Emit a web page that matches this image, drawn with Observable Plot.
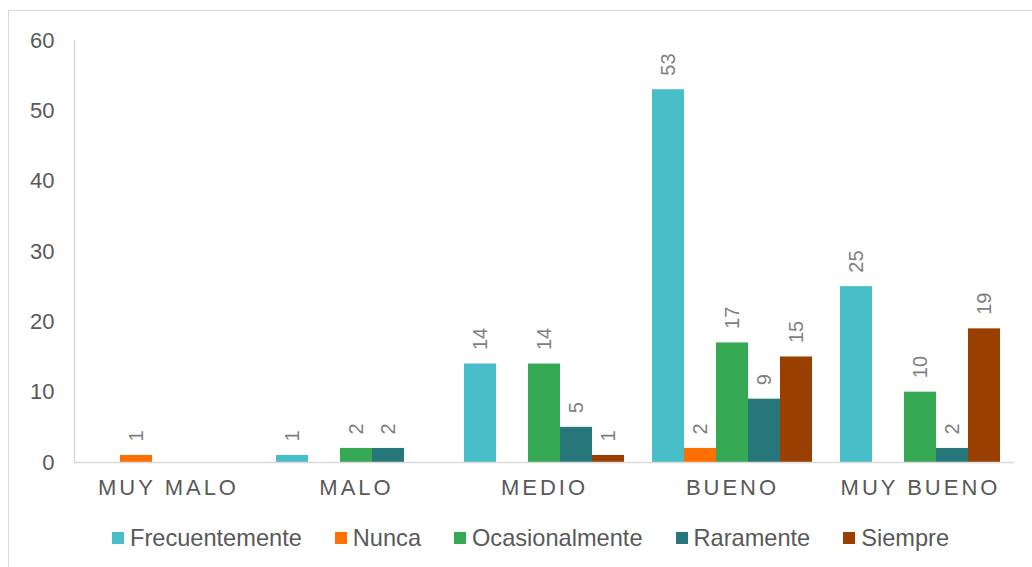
<!DOCTYPE html>
<html>
<head>
<meta charset="utf-8">
<script src="https://cdn.jsdelivr.net/npm/d3@7"></script>
<script src="https://cdn.jsdelivr.net/npm/@observablehq/plot@0.6"></script>
<style>
  html, body { margin: 0; padding: 0; background: #fff; }
  body { width: 1032px; height: 567px; overflow: hidden; position: relative; font-family: "Liberation Sans", Arial, sans-serif; }
  #border { position: absolute; left: 8px; top: 10px; width: 1040px; height: 570px; border: 1px solid #d9d9d9; box-sizing: border-box; }
  #chart { position: absolute; left: 0; top: 0; }
  #chart [aria-label="fx-axis tick label"] text { letter-spacing: 3px; }
  #legend { position: absolute; left: 112px; top: 524px; display: flex; align-items: center; gap: 33px; font-size: 23.6px; color: #595959; line-height: 28px; }
  #legend .item { display: flex; align-items: center; }
  #legend .swatch { width: 12px; height: 12px; margin-right: 6px; }
</style>
</head>
<body>
<div id="border"></div>
<div id="chart"></div>
<div id="legend"></div>
<script>
// Rating categories along the x axis
const categories = ["MUY MALO", "MALO", "MEDIO", "BUENO", "MUY BUENO"];
// Response series (one bar per series inside each category)
const series = ["Frecuentemente", "Nunca", "Ocasionalmente", "Raramente", "Siempre"];
const colors = ["#48bec8", "#ff6f00", "#35a853", "#26767a", "#993f00"];

// Counts per category, in category order
const frecuentemente = [0, 1, 14, 53, 25];
const nunca = [1, 0, 0, 2, 0];
const ocasionalmente = [0, 2, 14, 17, 10];
const raramente = [0, 2, 5, 9, 2];
const siempre = [0, 0, 1, 15, 19];

const yTicks = [0, 10, 20, 30, 40, 50, 60];

const valuesBySeries = [frecuentemente, nunca, ocasionalmente, raramente, siempre];
const rows = [];
series.forEach((s, si) => {
  categories.forEach((c, ci) => {
    rows.push({category: c, series: s, value: valuesBySeries[si][ci]});
  });
});
const shown = rows.filter(d => d.value > 0);

const chart = Plot.plot({
  width: 1032,
  height: 510,
  marginTop: 40,
  marginBottom: 48,
  marginLeft: 73,
  marginRight: 17,
  style: {fontFamily: "'Liberation Sans', Arial, sans-serif", fontSize: "22px", color: "#595959", background: "transparent", overflow: "visible"},
  fx: {domain: categories, padding: 0, label: null},
  x: {domain: series, paddingInner: 0, paddingOuter: 0.36, axis: null},
  y: {domain: [0, 60], label: null},
  color: {domain: series, range: colors},
  marks: [
    Plot.barY(shown, {fx: "category", x: "series", y: "value", fill: "series"}),
    Plot.ruleY([0], {stroke: "#d9d9d9", strokeWidth: 1.5}),
    Plot.frame({anchor: "left", stroke: "#d9d9d9", strokeWidth: 1.5, facet: "super"}),
    Plot.axisY(yTicks, {tickSize: 0, tickPadding: 20, label: null, fontSize: 22}),
    Plot.axisFx({anchor: "bottom", tickSize: 0, tickPadding: 17, label: null, fontSize: 22}),
    Plot.text(shown, {
      fx: "category", x: "series", y: "value", text: d => String(d.value),
      rotate: -90, textAnchor: "start", lineAnchor: "middle", dy: -14,
      fontSize: 20, fill: "#7f7f7f"
    })
  ]
});
document.getElementById("chart").appendChild(chart);

// Legend below the plot
const legend = document.getElementById("legend");
series.forEach((s, i) => {
  const item = document.createElement("div");
  item.className = "item";
  const sw = document.createElement("span");
  sw.className = "swatch";
  sw.style.background = colors[i];
  const label = document.createElement("span");
  label.textContent = s;
  item.appendChild(sw);
  item.appendChild(label);
  legend.appendChild(item);
});
</script>
</body>
</html>
